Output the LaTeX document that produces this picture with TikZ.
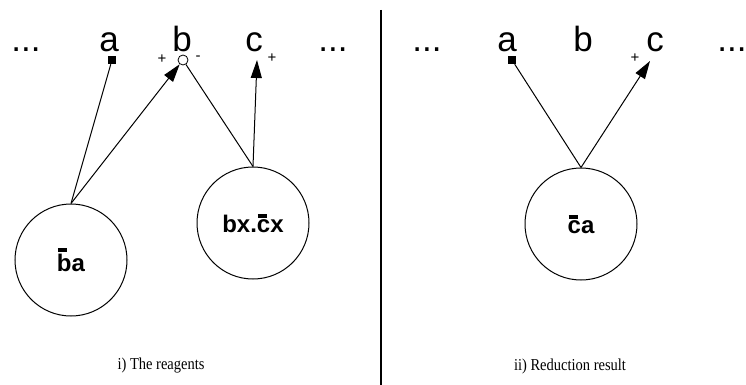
\documentclass[tikz,border=0pt]{standalone}
\usepackage{fontspec}
\setmainfont{Liberation Serif}
\setsansfont{Liberation Sans}
\usetikzlibrary{arrows.meta}
% short overbar sitting just above a letter
\newcommand\barred[1]{\leavevmode\setbox0\hbox{#1}%
  \rlap{\hspace{0.04em}\raisebox{\dimexpr\ht0+0.07em\relax}{\rule{0.38em}{0.16em}}}#1}
% caption text, slightly tall
\newcommand\tallcap[1]{\scalebox{1}[1.15]{#1}}
\tikzset{
  lbl/.style={font=\sffamily\fontsize{35}{38}\selectfont, anchor=base, inner sep=0pt},
  sgn/.style={font=\sffamily\fontsize{15}{17}\selectfont, inner sep=0pt},
  term/.style={draw, circle, line width=1pt, minimum size=112pt, inner sep=0pt,
    font=\sffamily\bfseries\fontsize{24}{26}\selectfont},
  sq/.style={fill=black, minimum size=8pt, inner sep=0pt},
  port/.style={draw, circle, fill=white, line width=0.8pt, minimum size=10pt, inner sep=0pt},
  wire/.style={line width=1pt},
  arr/.style={wire, -{Triangle[length=18pt,width=11pt]}},
  captext/.style={font=\rmfamily\fontsize{14.5}{16}\selectfont, inner sep=0pt}
}
\begin{document}
\begin{tikzpicture}[x=1pt,y=-1pt]
\useasboundingbox (0,0) rectangle (746,385);
% separator
\draw[line width=1.2pt] (381,10) -- (381,385);

% ---- left: the reagents ----
\node[lbl] (dl1) at (26,52) {...};
\node[lbl] (la) at (109,52) {a};
\node[lbl] (lb) at (182,52) {b};
\node[lbl] (lc) at (254,52) {c};
\node[lbl] (dl2) at (333,52) {...};
\node[sq] (sqa) at (112,60) {};
\node[port] (pb) at (183,60) {};
\node[sgn] (pbp) at (162,59) {+};
\node[sgn] (pbm) at (198,58) {-};
\node[sgn] (pcp) at (272,58) {+};
\coordinate (pc) at (257,60);
\node[term] (ba) at (71,260) {\barred{b}a};
\node[term] (bxcx) at (253,223) {bx.\barred{c}x};
\draw[wire] (ba.north) -- (sqa);
\draw[arr] (ba.north) -- (pb);
\draw[wire] (bxcx.north) -- (pb);
\draw[arr] (bxcx.north) -- (pc);
\node[captext] (capl) at (161,366) {\tallcap{i) The reagents}};

% ---- right: reduction result ----
\node[lbl] (dr1) at (427,52) {...};
\node[lbl] (ra) at (507,52) {a};
\node[lbl] (rb) at (583,52) {b};
\node[lbl] (rc) at (655,52) {c};
\node[lbl] (dr2) at (732,52) {...};
\node[sq] (sqa2) at (512,60) {};
\node[sgn] (rcp) at (635,58) {+};
\coordinate (rpc) at (650,61);
\node[term] (ca) at (581,224) {\barred{c}a};
\draw[wire] (ca.north) -- (sqa2);
\draw[arr] (ca.north) -- (rpc);
\node[captext] (capr) at (570,366) {\tallcap{ii) Reduction result}};
\end{tikzpicture}
\end{document}
